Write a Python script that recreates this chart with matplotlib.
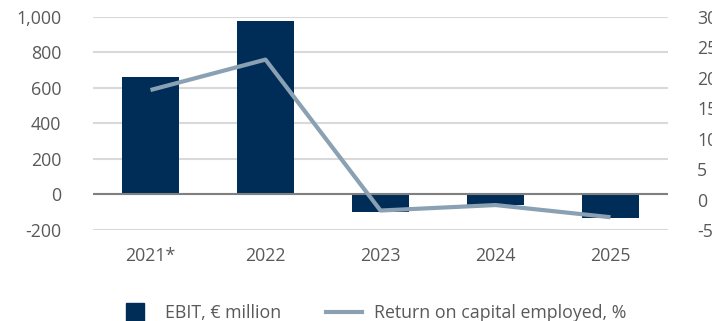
import matplotlib.pyplot as plt
import numpy as np
from matplotlib.lines import Line2D

years = ["2021*", "2022", "2023", "2024", "2025"]
ebit = [660, 975, -100, -57, -135]
roce = [18.0, 23.0, -1.8, -0.9, -2.9]

bar_color = "#002d57"
line_color = "#8aa0b3"
text_color = "#595959"

plt.rcParams["font.family"] = ["Open Sans", "DejaVu Sans"]
plt.rcParams["font.size"] = 12.8
plt.rcParams["axes.unicode_minus"] = False

fig = plt.figure(figsize=(7.12, 3.21), dpi=100)
ax = fig.add_axes([93 / 712, 1 - 230 / 321, 575 / 712, 213 / 321])
ax2 = ax.twinx()

x = np.arange(len(years))
ax.bar(x, ebit, width=0.5, color=bar_color, zorder=3)
ax.axhline(0, color="#808080", lw=1.5, zorder=4)
ax2.plot(x, roce, color=line_color, lw=3, zorder=5, solid_capstyle="butt")

ax.set_xlim(-0.5, len(years) - 0.5)
ax.set_ylim(-200, 1000)
ax.set_yticks(range(-200, 1001, 200))
ax.set_yticklabels([f"{v:,}" for v in range(-200, 1001, 200)])
ax2.set_ylim(-5, 30)
ax2.set_yticks(range(-5, 31, 5))

ax.set_xticks(x)
ax.set_xticklabels(years)
ax.grid(axis="y", color="#d9d9d9", lw=1.5, zorder=0)
ax.set_axisbelow(True)

for a in (ax, ax2):
    for s in a.spines.values():
        s.set_visible(False)
    a.tick_params(length=0, colors=text_color, labelsize=12.8)
ax.tick_params(axis="y", pad=23)
ax.tick_params(axis="x", pad=12)
ax2.tick_params(axis="y", pad=21)

ax2.set_zorder(ax.get_zorder() + 1)
ax2.patch.set_visible(False)

# square marker for the bars, plain line for the ratio
handles = [
    Line2D([0], [0], marker="s", markersize=13, color=bar_color, ls="none"),
    Line2D([0], [0], color=line_color, lw=3),
]
fig.legend(handles, ["EBIT, € million", "Return on capital employed, %"],
           loc="center", bbox_to_anchor=(372 / 712, 1 - 313 / 321), ncol=2,
           frameon=False, fontsize=12.8, labelcolor=text_color,
           handlelength=2.0, handletextpad=0.7, columnspacing=2.5,
           borderpad=0)

fig.savefig("out.png", dpi=100)
